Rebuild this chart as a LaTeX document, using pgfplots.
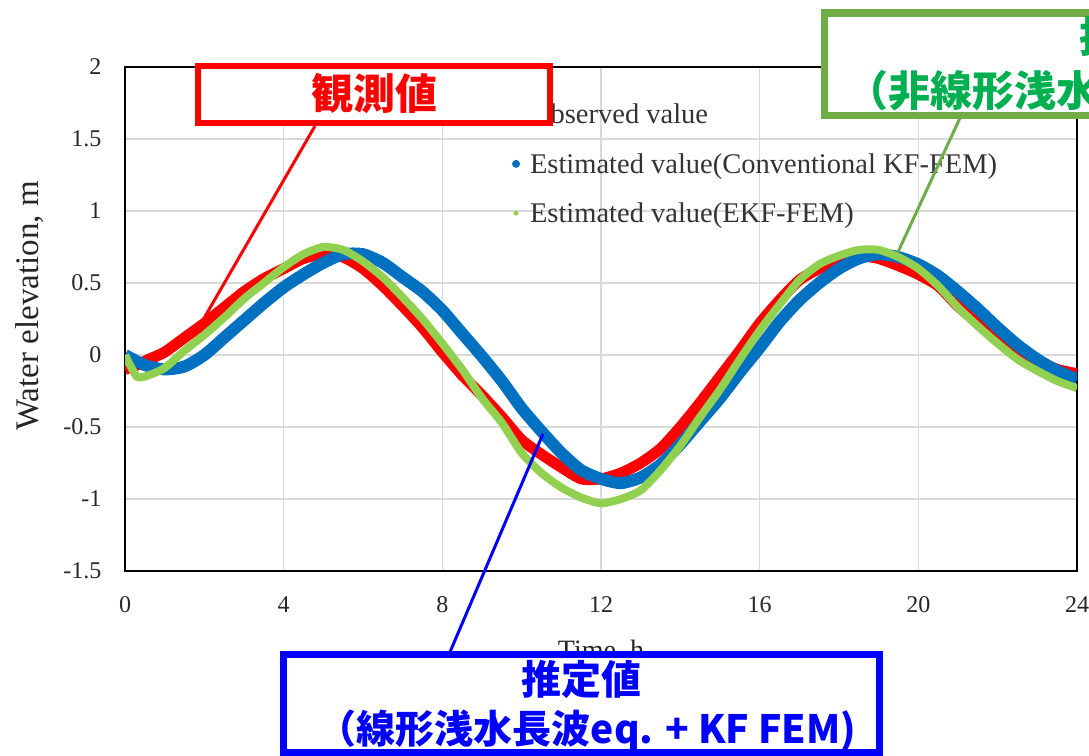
\documentclass[border=0pt]{standalone}
\usepackage{fontspec}
\setmainfont{Liberation Serif}
\newfontfamily\cjk{Noto Sans CJK JP}
\usepackage{pgfplots}
\pgfplotsset{compat=1.18}
\definecolor{obsred}{RGB}{255,0,0}
\definecolor{kfblue}{RGB}{0,112,192}
\definecolor{ekfgreen}{RGB}{146,208,80}
\definecolor{boxgreen}{RGB}{112,173,71}
\definecolor{txtgreen}{RGB}{0,176,80}
\definecolor{boxblue}{RGB}{0,0,255}
\begin{document}
\begin{tikzpicture}
\clip (0bp,0bp) rectangle (1089bp,-756bp);
\fill[white] (0bp,0bp) rectangle (1089bp,-756bp);
\begin{axis}[
  at={(125bp,-571bp)}, anchor=south west,
  scale only axis, width=952bp, height=504bp,
  xmin=0, xmax=24, ymin=-1.5, ymax=2,
  xtick={0,4,8,12,16,20,24},
  ytick={-1.5,-1,-0.5,0,0.5,1,1.5,2},
  yticklabels={-1.5,-1,-0.5,0,0.5,1,1.5,2},
  grid=major,
  grid style={draw=black!15, line width=1.6bp},
  axis line style={line width=2.5bp, black},
  major tick length=0pt,
  tick style={draw=none},
  /pgf/number format/assume math mode=true,
  ticklabel style={font=\fontsize{24bp}{28bp}\selectfont, text=black!85},
  xticklabel style={yshift=-22bp},
  yticklabel style={xshift=-20bp},
  legend cell align=left,
  legend style={draw=none, fill=none, at={(rel axis cs:0.399,0.933)}, anchor=north west,
     font=\fontsize{28.5bp}{32bp}\selectfont, text=black!80, row sep=26bp,
     nodes={inner sep=1bp}},
]
\addplot[obsred, line width=11bp, smooth, tension=0.4,
  legend image code/.code={\path[draw=none, fill=obsred] (8bp,0bp) circle (4bp); \path[draw=none] (0bp,0bp) -- (21bp,0bp);}] coordinates {
(0,-0.10) (0.3,-0.07) (0.6,-0.03) (1.0,0.02) (1.5,0.12) (2.0,0.22) (2.5,0.33)
(3.0,0.44) (3.5,0.53) (4.0,0.60) (4.5,0.67) (5.0,0.70) (5.5,0.68) (6.0,0.60)
(6.5,0.48) (7.0,0.34) (7.5,0.19) (8.0,0.02) (8.5,-0.14) (9.0,-0.28) (9.5,-0.43)
(10.0,-0.59) (10.5,-0.69) (11.0,-0.78) (11.5,-0.86) (12.0,-0.86) (12.5,-0.82)
(13.0,-0.75) (13.5,-0.65) (14.0,-0.50) (14.5,-0.33) (15.0,-0.15) (15.5,0.03)
(16.0,0.22) (16.5,0.38) (17.0,0.52) (17.5,0.60) (18.0,0.66) (18.5,0.69) (19.0,0.67)
(19.5,0.62) (20.0,0.56) (20.5,0.48) (21.0,0.34) (21.5,0.22) (22.0,0.10) (22.5,0.02)
(23.0,-0.04) (23.5,-0.10) (24.0,-0.13)
};
\addlegendentry{Observed value}
\addplot[kfblue, line width=12bp, smooth, tension=0.4,
  legend image code/.code={\path[draw=none, fill=kfblue] (8bp,0bp) circle (4bp); \path[draw=none] (0bp,0bp) -- (21bp,0bp);}] coordinates {
(0,0.00) (0.5,-0.07) (1.0,-0.10) (1.5,-0.08) (2.0,0.00) (2.5,0.12) (3.0,0.24)
(3.5,0.36) (4.0,0.47) (4.5,0.56) (5.0,0.64) (5.5,0.70) (6.0,0.70) (6.5,0.64)
(7.0,0.54) (7.5,0.44) (8.0,0.31) (8.5,0.15) (9.0,-0.01) (9.5,-0.18) (10.0,-0.37)
(10.5,-0.53) (11.0,-0.68) (11.5,-0.80) (12.0,-0.86) (12.5,-0.89) (13.0,-0.85)
(13.5,-0.76) (14.0,-0.62) (14.5,-0.46) (15.0,-0.30) (15.5,-0.12) (16.0,0.05)
(16.5,0.23) (17.0,0.38) (17.5,0.50) (18.0,0.60) (18.5,0.67) (19.0,0.70) (19.5,0.68)
(20.0,0.63) (20.5,0.55) (21.0,0.44) (21.5,0.32) (22.0,0.19) (22.5,0.07) (23.0,-0.03)
(23.5,-0.11) (24.0,-0.17)
};
\addlegendentry{Estimated value(Conventional KF-FEM)}
\addplot[ekfgreen, line width=8bp, smooth, tension=0.4,
  legend image code/.code={\path[draw=none, fill=ekfgreen] (8bp,0bp) circle (2.5bp); \path[draw=none] (0bp,0bp) -- (21bp,0bp);}] coordinates {
(0,0.00) (0.3,-0.15) (0.6,-0.14) (1.0,-0.09) (1.5,0.03) (2.0,0.14) (2.5,0.26)
(3.0,0.39) (3.5,0.50) (4.0,0.61) (4.5,0.70) (5.0,0.75) (5.5,0.73) (6.0,0.65)
(6.5,0.54) (7.0,0.40) (7.5,0.25) (8.0,0.08) (8.5,-0.10) (9.0,-0.30) (9.5,-0.47)
(10.0,-0.68) (10.5,-0.82) (11.0,-0.92) (11.5,-0.99) (12.0,-1.03) (12.5,-1.00)
(13.0,-0.94) (13.5,-0.80) (14.0,-0.63) (14.5,-0.43) (15.0,-0.24) (15.5,-0.03)
(16.0,0.17) (16.5,0.35) (17.0,0.52) (17.5,0.63) (18.0,0.69) (18.5,0.73) (19.0,0.73)
(19.5,0.68) (20.0,0.60) (20.5,0.48) (21.0,0.33) (21.5,0.20) (22.0,0.08) (22.5,-0.03)
(23.0,-0.11) (23.5,-0.18) (24.0,-0.23)
};
\addlegendentry{Estimated value(EKF-FEM)}
\end{axis}
\begin{scope}[x=1bp, y=-1bp]
% axis labels
\node[rotate=90, font=\fontsize{33bp}{36bp}\selectfont, text=black!85] at (30,306) {Water elevation, m};
\node[font=\fontsize{28bp}{32bp}\selectfont, text=black!85] at (601,652) {Time, h};
% red annotation
\draw[obsred, line width=3bp] (315,126) -- (203,320);
\draw[obsred, line width=6bp, fill=white] (198,66) rectangle (550,123);
\node[obsred, font=\cjk\bfseries\fontsize{42bp}{46bp}\selectfont] at (374,94) {観測値};
% blue annotation
\draw[boxblue, line width=3bp] (450,652) -- (543,434);
\draw[boxblue, line width=7bp, fill=white] (283,654) rectangle (879,752);
\node[boxblue, font=\cjk\bfseries\fontsize{40bp}{44bp}\selectfont] at (581,679) {推定値};
\node[boxblue, font=\cjk\bfseries\fontsize{39bp}{44bp}\selectfont] at (587,731) {（線形浅水長波eq. + KF FEM)};
% green annotation
\draw[boxgreen, line width=3bp] (960,118) -- (898,252);
\draw[boxgreen, line width=7bp, fill=white] (824,13) rectangle (1300,115);
\node[txtgreen, anchor=west, inner sep=0pt, font=\cjk\bfseries\fontsize{42bp}{46bp}\selectfont] at (1079,37) {推定値};
\node[txtgreen, anchor=west, inner sep=0pt, font=\cjk\bfseries\fontsize{42bp}{46bp}\selectfont] at (846,93) {（非線形浅水長波eq. + EKF FEM)};
\end{scope}
\end{tikzpicture}
\end{document}
